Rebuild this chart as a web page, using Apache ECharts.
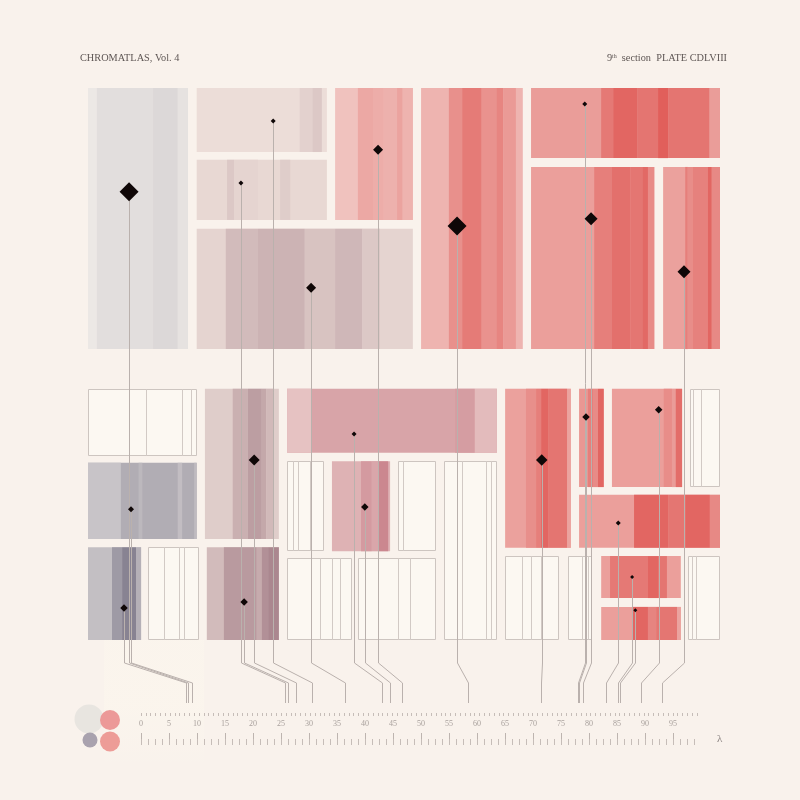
<!DOCTYPE html>
<html>
<head>
<meta charset="utf-8">
<script src="https://cdn.jsdelivr.net/npm/echarts@6/dist/echarts.min.js"></script>
<style>
  html, body { margin: 0; padding: 0; background: #f9f2ec; }
  #main { width: 800px; height: 800px; }
</style>
</head>
<body>
<div id="main"></div>
<script>
// mosaic units: x 0..100 across the plate, y 0..100 top to bottom
// family: 0 grey, 1 mauve, 2 rose, 3 red ; tone 0..1 light -> dark
const cells = [
  [0, 0, 15.8, 47.3, 0, 0.09],
  [17.2, 0, 37.8, 11.6, 1, 0.03],
  [17.2, 13.0, 37.8, 23.9, 1, 0.08],
  [39.1, 0, 51.4, 23.9, 3, 0.05],
  [17.2, 25.5, 51.4, 47.3, 1, 0.12],
  [52.7, 0, 68.8, 47.3, 3, 0.16],
  [70.1, 0, 100, 12.7, 3, 0.35],
  [70.1, 14.3, 89.6, 47.3, 3, 0.34],
  [91.0, 14.3, 100, 47.3, 3, 0.32],
  [0, 67.9, 17.2, 81.7, 0, 0.53],
  [0, 83.2, 8.4, 100, 0, 0.37],
  [18.5, 54.5, 30.2, 81.7, 1, 0.2],
  [18.8, 83.2, 30.2, 100, 1, 0.38],
  [31.5, 54.5, 64.7, 66.1, 2, 0.52],
  [38.6, 67.6, 47.8, 83.9, 2, 0.37],
  [66.0, 54.5, 76.4, 83.3, 3, 0.32],
  [77.7, 54.5, 81.6, 72.3, 3, 0.4],
  [82.9, 54.5, 94.0, 72.3, 3, 0.34],
  [77.7, 73.7, 100, 83.3, 3, 0.34],
  [81.2, 84.8, 93.8, 92.4, 3, 0.34],
  [81.2, 94.0, 93.8, 100, 3, 0.34]
];

// [cell, x0, x1, tone]
const stripes = [
  [0, 0, 1.4, 0.0], [0, 10.3, 14.2, 0.14], [0, 14.2, 15.8, 0.05],
  [1, 33.5, 35.5, 0.15], [1, 35.5, 37.0, 0.25],
  [2, 22.0, 23.1, 0.25], [2, 23.1, 26.9, 0.12], [2, 30.4, 32.0, 0.2],
  [3, 42.7, 45.1, 0.26], [3, 45.1, 46.8, 0.22], [3, 46.8, 48.9, 0.19], [3, 48.9, 49.8, 0.3], [3, 49.8, 51.4, 0.17],
  [4, 21.8, 26.9, 0.38], [4, 26.9, 34.3, 0.46], [4, 34.3, 39.1, 0.3], [4, 39.1, 43.4, 0.42], [4, 43.4, 46.2, 0.25],
  [5, 57.1, 59.2, 0.46], [5, 59.2, 62.3, 0.63], [5, 62.3, 64.6, 0.44], [5, 64.6, 65.7, 0.55], [5, 65.7, 67.7, 0.38],
  [6, 81.2, 83.1, 0.65], [6, 83.1, 86.9, 0.8], [6, 86.9, 90.2, 0.68], [6, 90.2, 91.8, 0.86], [6, 91.8, 98.3, 0.68],
  [7, 80.1, 82.9, 0.6], [7, 82.9, 85.8, 0.72], [7, 85.8, 87.7, 0.67], [7, 87.7, 88.6, 0.78], [7, 88.6, 89.6, 0.5],
  [8, 94.5, 94.9, 0.6], [8, 94.9, 95.7, 0.48], [8, 95.7, 98.1, 0.58], [8, 98.1, 98.7, 0.8], [8, 98.7, 100, 0.52],
  [9, 0, 5.2, 0.32], [9, 8.0, 8.6, 0.43], [9, 14.2, 14.9, 0.38], [9, 16.8, 17.2, 0.4],
  [10, 3.8, 5.4, 0.7], [10, 5.4, 7.6, 0.9], [10, 7.6, 8.4, 0.5],
  [11, 22.9, 25.3, 0.5], [11, 25.3, 27.5, 0.68], [11, 27.5, 28.2, 0.58], [11, 28.2, 29.3, 0.4],
  [12, 21.5, 26.7, 0.72], [12, 26.7, 27.5, 0.55], [12, 27.5, 28.5, 0.82], [12, 28.5, 30.2, 0.92],
  [13, 31.5, 35.3, 0.2], [13, 58.1, 61.2, 0.6], [13, 61.2, 64.7, 0.27],
  [14, 43.2, 44.9, 0.63], [14, 44.9, 45.9, 0.5], [14, 45.9, 47.5, 0.84],
  [15, 69.3, 70.9, 0.47], [15, 70.9, 71.7, 0.6], [15, 71.7, 72.8, 0.8], [15, 72.8, 75.8, 0.68], [15, 75.8, 76.4, 0.3],
  [16, 79.1, 79.9, 0.6], [16, 79.9, 80.7, 0.5], [16, 80.7, 81.6, 0.8],
  [17, 91.1, 92.4, 0.48], [17, 92.4, 93.0, 0.36], [17, 93.0, 94.0, 0.75],
  [18, 86.4, 91.8, 0.8], [18, 91.8, 94.5, 0.67], [18, 94.5, 98.4, 0.8], [18, 98.4, 100, 0.52],
  [19, 82.6, 88.6, 0.65], [19, 88.6, 90.2, 0.8], [19, 90.2, 91.6, 0.68],
  [20, 86.2, 88.6, 0.8], [20, 88.6, 89.9, 0.56], [20, 89.9, 93.2, 0.67], [20, 93.2, 93.8, 0.3]
];

// empty (outlined) cells and their inner rules
const frames = [
  [0, 54.5, 17.2, 66.7],
  [9.5, 83.2, 17.6, 100],
  [31.5, 67.6, 37.3, 83.9],
  [49.1, 67.6, 55.1, 83.9],
  [31.5, 85.1, 41.8, 100],
  [42.7, 85.1, 55.1, 100],
  [56.3, 67.6, 64.7, 100],
  [66.0, 84.8, 74.5, 100],
  [75.9, 84.8, 79.7, 100],
  [95.3, 54.5, 100, 72.3],
  [94.9, 84.8, 100, 100]
];
const frameRules = [
  [0, 9.2], [0, 14.9], [0, 16.3],
  [1, 12.0], [1, 14.4], [1, 15.2],
  [2, 32.4], [2, 33.2], [2, 35.1],
  [3, 49.8],
  [4, 36.7], [4, 38.6], [4, 39.9],
  [5, 49.1], [5, 50.9],
  [6, 59.2], [6, 63.0], [6, 63.8],
  [7, 68.7], [7, 70.1], [7, 71.7],
  [8, 78.2], [8, 78.6], [8, 79.1],
  [9, 95.7], [9, 97.0],
  [10, 95.6], [10, 96.2]
];

// markers: [x, y, weight]
const markers = [
  [6.5, 18.8, 19], [29.3, 6.0, 5], [24.2, 17.2, 5], [45.9, 11.2, 10],
  [35.3, 36.2, 10], [58.4, 25.0, 19], [78.6, 2.9, 5], [79.6, 23.7, 13],
  [94.3, 33.3, 13], [6.8, 76.3, 6], [5.7, 94.2, 7.5], [26.3, 67.4, 11],
  [24.7, 93.1, 7.5], [42.1, 62.7, 5], [43.8, 75.9, 7.5], [71.8, 67.4, 11.5],
  [78.8, 59.6, 7.5], [90.3, 58.3, 7.5], [83.9, 78.8, 5], [86.1, 88.6, 4],
  [86.6, 94.6, 4]
];
const lambdas = [
  8.4, 30.5, 25.7, 46.6, 36.4, 58.4, 78.0, 79.0, 93.0, 9.1, 8.0,
  27.7, 26.2, 43.0, 44.5, 71.4, 78.3, 89.3, 83.0, 85.2, 85.5
];

const families = [
  [[236, 232, 229], [125, 120, 137]],
  [[238, 224, 218], [165, 127, 136]],
  [[238, 212, 210], [196, 120, 130]],
  [[241, 200, 196], [222, 78, 74]]
];
function tint(fam, t) {
  const [a, b] = families[fam];
  const c = a.map((v, i) => Math.round(v + (b[i] - v) * t));
  return 'rgb(' + c.join(',') + ')';
}

const chart = echarts.init(document.getElementById('main'));
const serif = 'Liberation Serif';
const ink = '#5e5654';
let lamPx = [];

const hiddenY = (gi) => ({ gridIndex: gi, type: 'value', show: false, min: 0, max: 1 });

const option = {
  backgroundColor: '#f9f2ec',
  animation: false,
  title: [
    {
      text: 'CHROMATLAS, Vol. 4',
      left: 80, top: 53, padding: 0,
      textStyle: { fontFamily: serif, fontSize: 10.3, fontWeight: 'normal', color: ink }
    },
    {
      text: '{n|9}{sup|th}{s|  section  PLATE CDLVIII}',
      right: 73, top: 53, padding: 0,
      textStyle: {
        fontFamily: serif, fontSize: 10.3, fontWeight: 'normal', color: ink,
        rich: {
          n: { fontFamily: serif, fontSize: 10.3, color: ink },
          sup: { fontFamily: serif, fontSize: 6, color: ink, verticalAlign: 'top' },
          s: { fontFamily: serif, fontSize: 10.3, color: ink }
        }
      }
    }
  ],
  graphic: [
    {
      type: 'rect', silent: true, z: -1,
      shape: { x: 104, y: 640, width: 100, height: 130 },
      style: {
        fill: {
          type: 'linear', x: 0, y: 0, x2: 0, y2: 1,
          colorStops: [
            { offset: 0, color: 'rgba(255,251,238,0.25)' },
            { offset: 0.5, color: 'rgba(255,251,238,0.3)' },
            { offset: 1, color: 'rgba(255,251,238,0)' }
          ]
        }
      }
    },
    { type: 'circle', shape: { cx: 89, cy: 719, r: 14.5 }, style: { fill: '#e8e5e0' } },
    { type: 'circle', shape: { cx: 110, cy: 720, r: 10 }, style: { fill: '#ec9998' } },
    { type: 'circle', shape: { cx: 90, cy: 740, r: 7.5 }, style: { fill: '#a9a2ae' } },
    { type: 'circle', shape: { cx: 110, cy: 741.5, r: 10 }, style: { fill: '#ed9c97' } }
  ],
  grid: [
    { left: 88, top: 88, width: 632, height: 552 },
    { left: 141, top: 700, width: 532, height: 45 },
    { left: 141, top: 700, width: 553, height: 45 },
    { left: 141, top: 680, width: 556, height: 36 }
  ],
  xAxis: [
    { gridIndex: 0, type: 'value', min: 0, max: 100, show: false },
    {
      gridIndex: 1, type: 'value', min: 0, max: 95, interval: 5,
      name: 'λ', nameLocation: 'end', nameGap: 44,
      nameTextStyle: { fontFamily: serif, fontSize: 11, color: '#8a8280', verticalAlign: 'bottom', lineHeight: 12 },
      axisLine: { show: false },
      axisTick: { show: true, inside: true, length: 12, lineStyle: { color: '#bdb4af', width: 1 } },
      axisLabel: {
        show: true, inside: true, margin: 17, showMinLabel: true, showMaxLabel: true,
        fontFamily: serif, fontSize: 8, color: '#a9a19d'
      },
      splitLine: { show: false }
    },
    {
      gridIndex: 2, type: 'value', min: 0, max: 98.75, interval: 1.25,
      axisLine: { show: false },
      axisTick: { show: true, inside: true, length: 6, lineStyle: { color: '#c6bdb8', width: 1 } },
      axisLabel: { show: false },
      splitLine: { show: false }
    },
    {
      gridIndex: 3, type: 'value', min: 0, max: 115, interval: 1,
      axisLine: { show: false },
      axisTick: { show: true, inside: true, length: 3, lineStyle: { color: '#c6bdb8', width: 1 } },
      axisLabel: { show: false },
      splitLine: { show: false }
    }
  ],
  yAxis: [
    { gridIndex: 0, type: 'value', min: 0, max: 100, inverse: true, show: false },
    hiddenY(1), hiddenY(2), hiddenY(3)
  ],
  series: [
    {
      type: 'custom', id: 'cells', xAxisIndex: 0, yAxisIndex: 0, z: 1, silent: true,
      data: cells,
      renderItem: (params, api) => {
        const a = api.coord([api.value(0), api.value(1)]);
        const b = api.coord([api.value(2), api.value(3)]);
        return {
          type: 'rect',
          shape: { x: a[0], y: a[1], width: b[0] - a[0], height: b[1] - a[1] },
          style: { fill: tint(api.value(4), api.value(5)) }
        };
      }
    },
    {
      type: 'custom', id: 'stripes', xAxisIndex: 0, yAxisIndex: 0, z: 2, silent: true,
      data: stripes,
      renderItem: (params, api) => {
        const cell = cells[api.value(0)];
        const a = api.coord([api.value(1), cell[1]]);
        const b = api.coord([api.value(2), cell[3]]);
        return {
          type: 'rect',
          shape: { x: a[0], y: a[1], width: b[0] - a[0], height: b[1] - a[1] },
          style: { fill: tint(cell[4], api.value(3)) }
        };
      }
    },
    {
      type: 'custom', id: 'frames', xAxisIndex: 0, yAxisIndex: 0, z: 3, silent: true,
      data: frames,
      renderItem: (params, api) => {
        const a = api.coord([api.value(0), api.value(1)]);
        const b = api.coord([api.value(2), api.value(3)]);
        const x0 = Math.round(a[0]) + 0.5, y0 = Math.round(a[1]) + 0.5;
        const x1 = Math.round(b[0]) - 0.5, y1 = Math.round(b[1]) - 0.5;
        return {
          type: 'rect',
          shape: { x: x0, y: y0, width: x1 - x0, height: y1 - y0 },
          style: { fill: '#fcf8f2', stroke: '#cdc5c0', lineWidth: 1 }
        };
      }
    },
    {
      type: 'custom', id: 'rules', xAxisIndex: 0, yAxisIndex: 0, z: 3, silent: true,
      data: frameRules,
      renderItem: (params, api) => {
        const f = frames[api.value(0)];
        const a = api.coord([api.value(1), f[1]]);
        const b = api.coord([api.value(1), f[3]]);
        const x = Math.round(a[0]) + 0.5;
        return {
          type: 'line',
          shape: { x1: x, y1: Math.round(a[1]), x2: x, y2: Math.round(b[1]) },
          style: { stroke: '#d2cac5', lineWidth: 1 }
        };
      }
    },
    {
      type: 'custom', id: 'leaders', xAxisIndex: 0, yAxisIndex: 0, z: 4, silent: true,
      data: [],
      renderItem: (params, api) => {
        const p = api.coord([api.value(0), api.value(1)]);
        const ex = lamPx[api.value(2)];
        if (ex == null) return null;
        const base = api.coord([0, 100])[1];
        const x = Math.round(p[0]) + 0.5;
        const e = Math.round(ex) + 0.5;
        return {
          type: 'polyline',
          shape: { points: [[x, p[1]], [x, base + 23], [e, base + 43], [e, base + 63]] },
          style: { stroke: '#bab1ad', lineWidth: 1, fill: null }
        };
      }
    },
    {
      type: 'scatter', id: 'markers', xAxisIndex: 0, yAxisIndex: 0, z: 5, silent: true,
      symbol: 'diamond',
      symbolSize: (v) => v[2],
      itemStyle: { color: '#0f0707', opacity: 1 },
      data: markers
    }
  ]
};

chart.setOption(option);
lamPx = lambdas.map((l) => chart.convertToPixel({ xAxisIndex: 1 }, l));
chart.setOption({
  series: [{ id: 'leaders', data: markers.map((m, i) => [m[0], m[1], i]) }]
});
</script>
</body>
</html>
